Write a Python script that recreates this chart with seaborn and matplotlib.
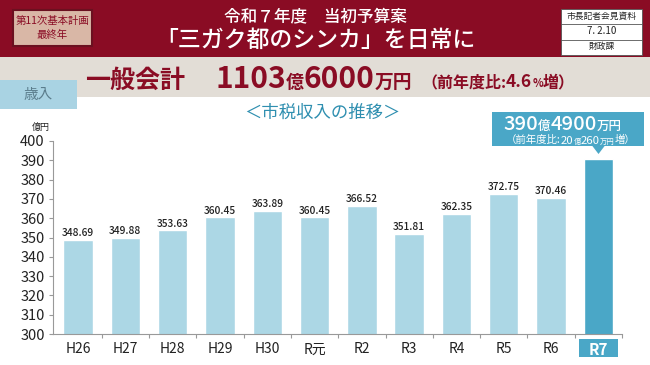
import matplotlib
matplotlib.use("Agg")
import matplotlib.pyplot as plt
import matplotlib.patches as mpatches
import seaborn as sns
import pandas as pd

# 市税収入の推移（億円）
categories = ['H26', 'H27', 'H28', 'H29', 'H30', 'R元', 'R2', 'R3', 'R4', 'R5', 'R6', 'R7']
values = [348.69, 349.88, 353.63, 360.45, 363.89, 360.45, 366.52, 351.81, 362.35, 372.75, 370.46, 390.49]
value_labels = ['348.69', '349.88', '353.63', '360.45', '363.89', '360.45', '366.52', '351.81',
                '362.35', '372.75', '370.46', '']
yticks = [300, 310, 320, 330, 340, 350, 360, 370, 380, 390, 400]

W, H = 650, 365
RED = '#8a0c24'
BEIGE = '#e2ddd6'
LIGHT = '#acd7e5'
TEAL = '#4aa7c7'
TITLE_TEAL = '#2f8fb0'

sns.set_theme(style="white")
plt.rcParams['font.family'] = ['Noto Sans CJK JP', 'DejaVu Sans']

fig = plt.figure(figsize=(W / 100, H / 100), dpi=100)
fig.patch.set_facecolor('white')
renderer = fig.canvas.get_renderer()


def fx(x):
    return x / W


def fy(y):
    return 1 - y / H


def rect(x0, y0, x1, y1, **kw):
    fig.add_artist(mpatches.Rectangle((fx(x0), fy(y1)), fx(x1) - fx(x0), fy(y0) - fy(y1),
                                      transform=fig.transFigure, **kw))


def seq(x, y, pieces, **kw):
    """文字の大きさが違う部品を、ベースラインをそろえて左から順に並べる"""
    for text, size in pieces:
        t = fig.text(fx(x), fy(y), text, fontsize=size, va='baseline', ha='left', **kw)
        x += t.get_window_extent(renderer).width
    return x


# ヘッダー帯
rect(0, 0, W, 57, facecolor=RED, edgecolor='none')
rect(0, 57, W, 97, facecolor=BEIGE, edgecolor='none')
rect(0, 80, 77, 109, facecolor='#a9d3e3', edgecolor='none')

# 左上バッジ
rect(13, 10, 92, 46, facecolor='#d9b7a6', edgecolor='#6b1020', linewidth=1.5)
fig.text(fx(52.5), fy(21), '第11次基本計画', ha='center', va='center', fontsize=7.5, color=RED)
fig.text(fx(52.5), fy(35), '最終年', ha='center', va='center', fontsize=7.5, color=RED)

# 右上の資料ボックス
rect(561, 9, 642, 55, facecolor='white', edgecolor='#555555', linewidth=0.6)
for yy in (24, 39.5):
    fig.add_artist(plt.Line2D([fx(561), fx(642)], [fy(yy), fy(yy)], transform=fig.transFigure,
                              color='#555555', linewidth=0.6))
fig.text(fx(601.5), fy(16.5), '市長記者会見資料', ha='center', va='center', fontsize=6.3, color='#222222')
fig.text(fx(601.5), fy(31.5), '7. 2.10', ha='center', va='center', fontsize=7, color='#222222')
fig.text(fx(601.5), fy(47), '財政課', ha='center', va='center', fontsize=6.3, color='#222222')

# タイトル
fig.text(fx(315), fy(16), '令和７年度　当初予算案', ha='center', va='center', fontsize=12,
         color='white', fontweight='medium')
fig.text(fx(315), fy(40), '「三ガク都のシンカ」を日常に', ha='center', va='center', fontsize=16.5,
         color='white', fontweight='medium')

# 一般会計の行
seq(85, 88, [('一般会計', 18)], color=RED, fontweight='bold')
seq(215, 88, [('1103', 21.5), ('億', 13), ('6000', 21.5), ('万円', 13.5)], color=RED, fontweight='bold')
seq(421, 87, [('（前年度比:', 11.5), ('4.6', 12.5), ('%', 8), ('増）', 11.5)], color=RED, fontweight='bold')
fig.text(fx(38), fy(95), '歳入', ha='center', va='center', fontsize=10.5, color='#5b7d8c')

# グラフの見出し
fig.text(fx(322), fy(113), '＜市税収入の推移＞', ha='center', va='center', fontsize=12.5, color=TITLE_TEAL)
fig.text(fx(41), fy(127), '億円', ha='center', va='center', fontsize=6.5, color='#222222')

# 棒グラフ
ax = fig.add_axes([fx(53), fy(334), fx(622) - fx(53), fy(141) - fy(334)])
ax.set_facecolor('none')
df = pd.DataFrame({'year': categories, 'value': values})
colors = [LIGHT] * (len(categories) - 1) + [TEAL]
sns.barplot(data=df, x='year', y='value', hue='year', palette=colors, legend=False,
            width=0.62, saturation=1, ax=ax)
ax.set_ylim(300, 400)
ax.set_xlim(-0.53, len(categories) - 0.5)
ax.set_yticks(yticks)
ax.set_xlabel('')
ax.set_ylabel('')
for side in ('top', 'right'):
    ax.spines[side].set_visible(False)
for side in ('left', 'bottom'):
    ax.spines[side].set_color('#999999')
    ax.spines[side].set_linewidth(0.8)
ax.tick_params(axis='y', which='major', left=True, length=3, width=0.8, color='#999999',
               labelsize=10.5, labelcolor='#222222', pad=3)
ax.tick_params(axis='x', which='major', bottom=False, labelsize=10, labelcolor='#222222', pad=0)
ax.set_xticks([i + 0.5 for i in range(len(categories))], minor=True)
ax.tick_params(axis='x', which='minor', bottom=True, length=3, width=0.8, color='#999999')

for i, (v, lab) in enumerate(zip(values, value_labels)):
    if lab:
        ax.text(i, v + 0.8, lab, ha='center', va='bottom', fontsize=7.3, color='#222222',
                fontweight='medium')

r7 = ax.get_xticklabels()[-1]
r7.set_color('white')
r7.set_fontweight('bold')
r7.set_fontsize(11)
rect(579, 339, 618, 357, facecolor=TEAL, edgecolor='none', zorder=-1)

# R7 の吹き出し
rect(492, 112, 644, 146, facecolor=TEAL, edgecolor='none')
fig.add_artist(mpatches.Polygon([(fx(592), fy(145.5)), (fx(605), fy(145.5)), (fx(598.5), fy(154))],
                                closed=True, transform=fig.transFigure, facecolor=TEAL, edgecolor='none'))
seq(503, 129.5, [('390', 14.5), ('億', 9), ('4900', 14.5), ('万円', 9)], color='white', fontweight='medium')
seq(506, 143.5, [('（前年度比:', 7.5), ('20', 8.2), ('億', 5.3), ('260', 8.2), ('万円', 5.3), ('増）', 7.5)],
    color='white')

fig.savefig('out.png', dpi=100)
